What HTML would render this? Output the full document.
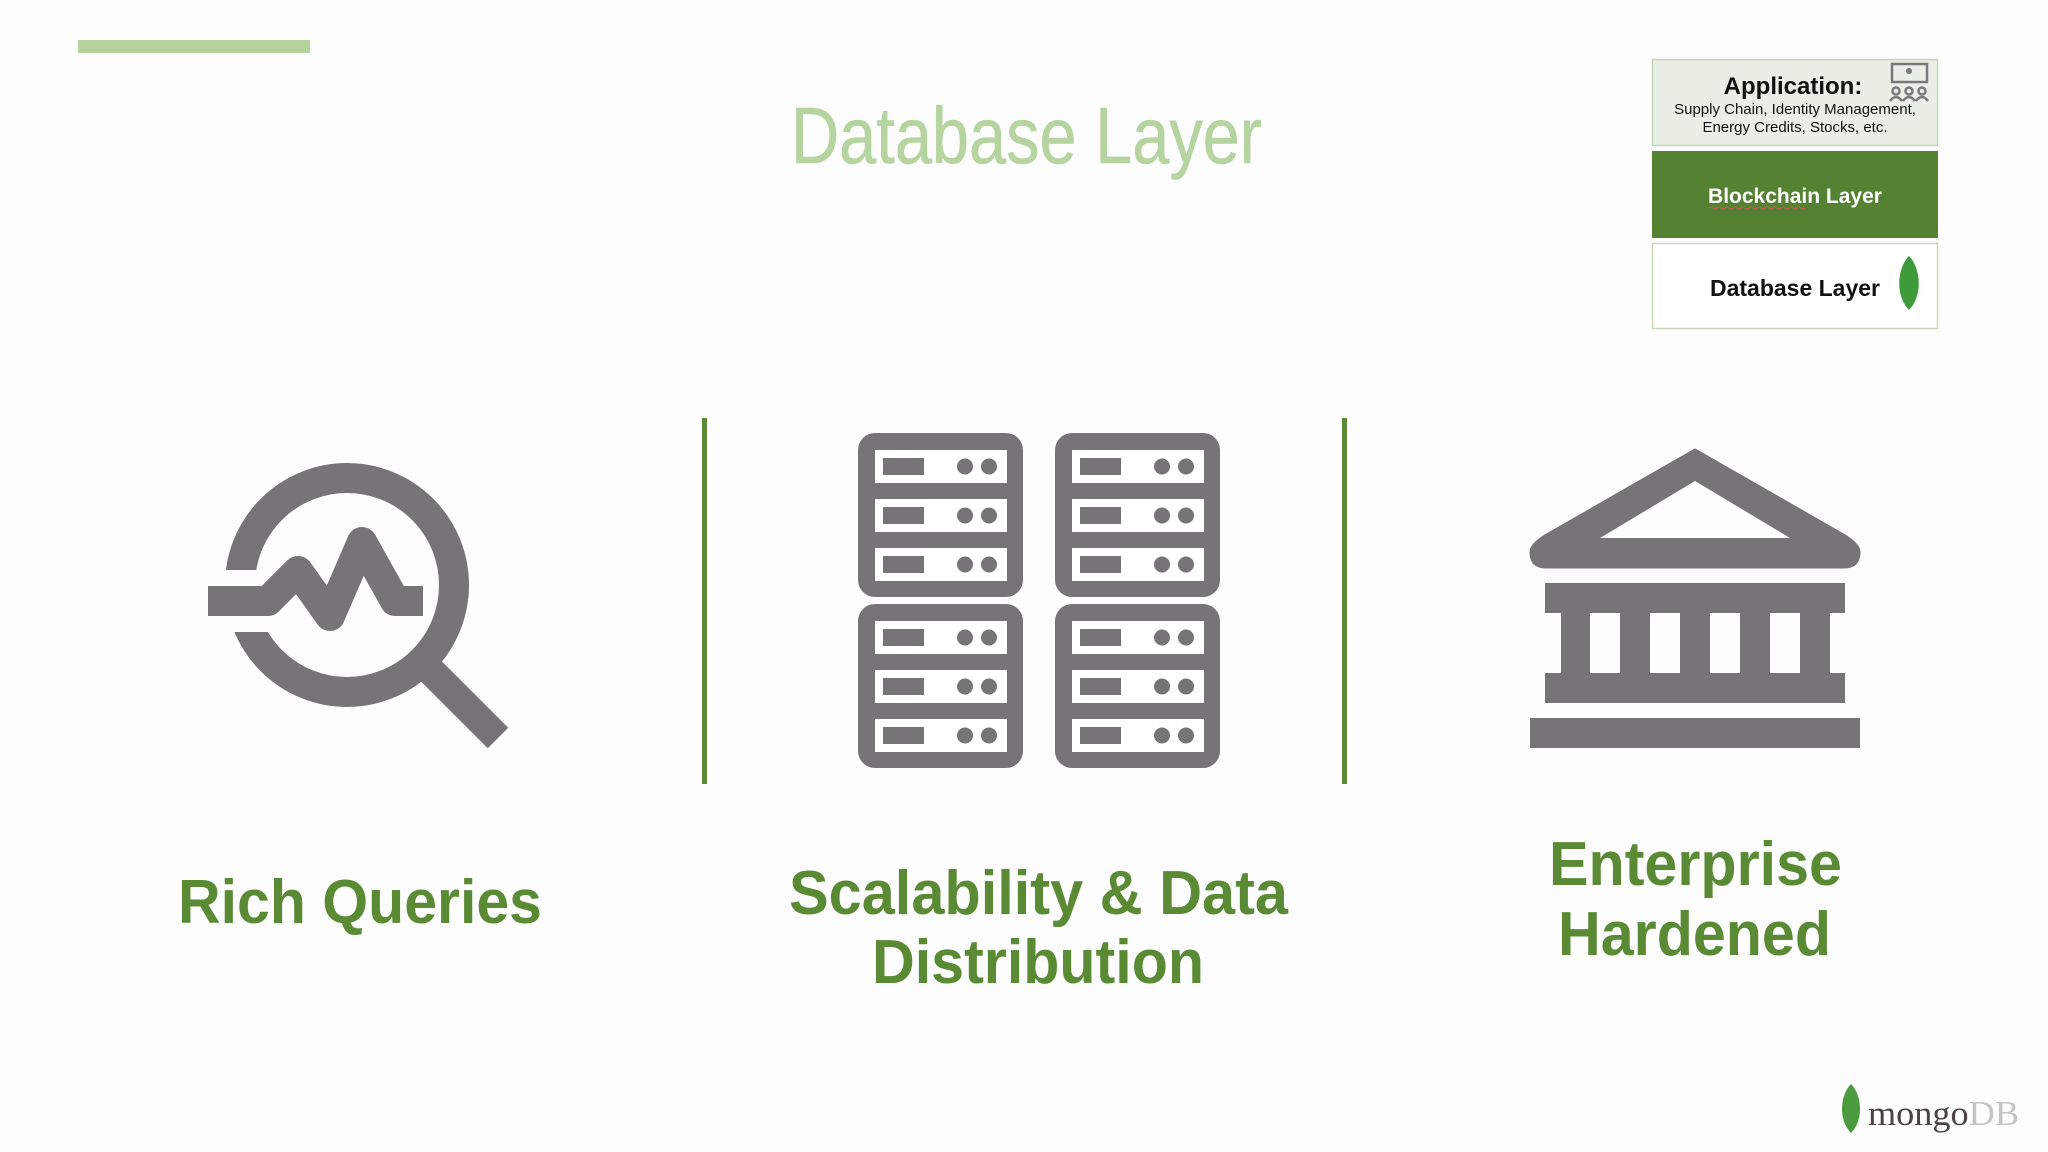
<!DOCTYPE html>
<html><head><meta charset="utf-8"><style>
html,body{margin:0;padding:0;background:#fdfdfd;}
svg{display:block;}
</style></head><body>
<svg width="2048" height="1152" viewBox="0 0 2048 1152" xmlns="http://www.w3.org/2000/svg">
<rect width="2048" height="1152" fill="#fdfdfd"/>
<rect x="78" y="40" width="232" height="13" fill="#b5d19e"/>
<text x="791" y="163" font-family="Liberation Sans, sans-serif" font-size="80" fill="#b5d49f" stroke="#b5d49f" stroke-width="0.6" textLength="471" lengthAdjust="spacingAndGlyphs">Database Layer</text>

<!-- layer stack -->
<rect x="1652.5" y="59.5" width="285" height="86" fill="#e9efe4" stroke="#c3d8b3" stroke-width="1.5"/>
<text x="1793" y="94" text-anchor="middle" font-family="Liberation Sans, sans-serif" font-weight="bold" font-size="24" fill="#111">Application:</text>
<text x="1795" y="114" text-anchor="middle" font-family="Liberation Sans, sans-serif" font-size="15" fill="#111">Supply Chain, Identity Management,</text>
<text x="1795" y="132" text-anchor="middle" font-family="Liberation Sans, sans-serif" font-size="15" fill="#111">Energy Credits, Stocks, etc.</text>
<g fill="none" stroke="#7a787a" stroke-width="2.5">
<rect x="1892" y="64" width="35" height="18"/>
<circle cx="1896" cy="91" r="3.5"/><circle cx="1909" cy="91" r="3.5"/><circle cx="1922" cy="91" r="3.5"/>
<path d="M1890 101 q6 -8 12 0 M1903 101 q6 -8 12 0 M1916 101 q6 -8 12 0"/>
</g>
<circle cx="1909" cy="71" r="3" fill="#7a787a"/>
<rect x="1652" y="151" width="286" height="87" fill="#548232"/>
<text x="1795" y="203" text-anchor="middle" font-family="Liberation Sans, sans-serif" font-weight="bold" font-size="21" fill="#fff">Blockchain Layer</text>
<path d="M1709 208 q2 -2 4 0 t4 0 t4 0 t4 0 t4 0 t4 0 t4 0 t4 0 t4 0 t4 0 t4 0 t4 0 t4 0 t4 0 t4 0 t4 0 t4 0 t4 0 t4 0 t4 0 t4 0 t4 0 t4 0 t4 0" fill="none" stroke="#d9534f" stroke-width="1"/>
<rect x="1652.5" y="243.5" width="285" height="85" fill="#fff" stroke="#c8dbb9" stroke-width="1.5"/>
<text x="1795" y="296" text-anchor="middle" font-family="Liberation Sans, sans-serif" font-weight="bold" font-size="23" fill="#111">Database Layer</text>
<path d="M1909 256 C1897 268 1895 296 1909 310 C1923 296 1921 268 1909 256 Z" fill="#3e9b3a"/>

<!-- separators -->
<rect x="702" y="418" width="5" height="366" fill="#5b8a35"/>
<rect x="1342" y="418" width="5" height="366" fill="#5b8a35"/>

<!-- magnifier -->
<circle cx="347" cy="585" r="107" fill="none" stroke="#767476" stroke-width="30"/>
<rect x="215" y="570" width="55" height="62" fill="#fdfdfd"/>
<polyline points="208,601 268,601 298,571 330,616 362,542 395,601 423,601" fill="none" stroke="#767476" stroke-width="30" stroke-linejoin="round"/>
<line x1="418" y1="658" x2="498" y2="738" stroke="#767476" stroke-width="29"/>

<!-- servers -->
<defs>
<g id="srv">
<rect x="0" y="0" width="165" height="164" rx="17" fill="#767476"/>
<rect x="17" y="17" width="132" height="33" fill="#fff"/>
<rect x="17" y="66" width="132" height="33" fill="#fff"/>
<rect x="17" y="115" width="132" height="33" fill="#fff"/>
<g fill="#767476">
<rect x="25" y="25" width="41" height="17"/><circle cx="107" cy="33.5" r="8"/><circle cx="131" cy="33.5" r="8"/>
<rect x="25" y="74" width="41" height="17"/><circle cx="107" cy="82.5" r="8"/><circle cx="131" cy="82.5" r="8"/>
<rect x="25" y="123" width="41" height="17"/><circle cx="107" cy="131.5" r="8"/><circle cx="131" cy="131.5" r="8"/>
</g>
</g>
</defs>
<use href="#srv" x="858" y="433"/>
<use href="#srv" x="1055" y="433"/>
<use href="#srv" x="858" y="604"/>
<use href="#srv" x="1055" y="604"/>

<!-- bank -->
<path d="M1695 450 L1545 536 Q1531 545 1531 552 Q1531 567 1546 567 L1844 567 Q1859 567 1859 552 Q1859 545 1845 536 Z" fill="#767476" stroke="#767476" stroke-width="3" stroke-linejoin="round"/>
<path d="M1695 481 L1600 538 L1790 538 Z" fill="#fdfdfd"/>
<rect x="1545" y="583" width="300" height="30" fill="#767476"/>
<rect x="1561" y="612" width="269" height="62" fill="#767476"/>
<g fill="#fdfdfd">
<rect x="1590" y="613" width="30" height="60"/><rect x="1650" y="613" width="30" height="60"/>
<rect x="1710" y="613" width="30" height="60"/><rect x="1770" y="613" width="30" height="60"/>
</g>
<rect x="1545" y="673" width="300" height="30" fill="#767476"/>
<rect x="1530" y="718" width="330" height="30" fill="#767476"/>

<!-- labels -->
<g font-family="Liberation Sans, sans-serif" font-weight="bold" font-size="62" fill="#5b8a35">
<text x="178" y="923" textLength="364" lengthAdjust="spacingAndGlyphs">Rich Queries</text>
<text x="789" y="914" textLength="499" lengthAdjust="spacingAndGlyphs">Scalability &amp; Data</text>
<text x="872" y="983" textLength="332" lengthAdjust="spacingAndGlyphs">Distribution</text>
<text x="1549" y="885" textLength="293" lengthAdjust="spacingAndGlyphs">Enterprise</text>
<text x="1558" y="955" textLength="273" lengthAdjust="spacingAndGlyphs">Hardened</text>
</g>

<!-- mongodb logo -->
<path d="M1851 1084 C1840 1095 1838 1120 1851 1133 C1864 1120 1862 1095 1851 1084 Z" fill="#4c9a3f"/>
<text x="1868" y="1125" font-family="Liberation Serif, serif" font-size="35" fill="#4a4444" textLength="151" lengthAdjust="spacingAndGlyphs">mongo<tspan fill="#c4c4c4">DB</tspan></text>
</svg>
</body></html>
